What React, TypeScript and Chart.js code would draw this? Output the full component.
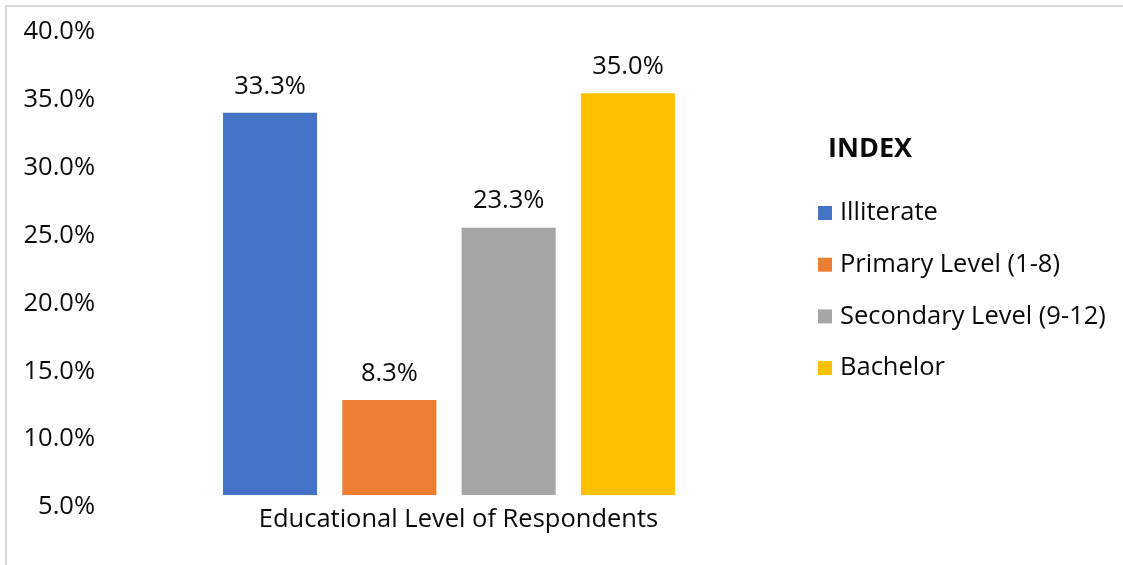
import React, { useEffect, useRef } from 'react';
import { Chart, registerables } from 'chart.js';

Chart.register(...registerables);

const categories = ['Educational Level of Respondents'];
const seriesNames = ['Illiterate', 'Primary Level (1-8)', 'Secondary Level (9-12)', 'Bachelor'];
const seriesValues = [33.3, 8.3, 23.3, 35.0];
const seriesColors = ['#4472C4', '#ED7D31', '#A5A5A5', '#FFC000'];
const yTickValues = [5, 10, 15, 20, 25, 30, 35, 40];
const yTickLabels = ['5.0%', '10.0%', '15.0%', '20.0%', '25.0%', '30.0%', '35.0%', '40.0%'];
const legendTitle = 'INDEX';

const FONT = '"Open Sans", Lato, sans-serif';
const FS = 25.5;
const TEXT = '#0a0a0a';
const W = 1123;
const H = 565;

const dataLabelPlugin = {
  id: 'dataLabels',
  afterDatasetsDraw(chart: any) {
    const ctx = chart.ctx;
    ctx.save();
    ctx.font = `${FS}px ${FONT}`;
    ctx.fillStyle = TEXT;
    ctx.textAlign = 'center';
    ctx.textBaseline = 'middle';
    chart.data.datasets.forEach((ds: any, i: number) => {
      const meta = chart.getDatasetMeta(i);
      meta.data.forEach((el: any, j: number) => {
        const v = ds.data[j];
        ctx.fillText(`${Number(v).toFixed(1)}%`, el.x, el.y - 26.5);
      });
    });
    ctx.restore();
  },
};

const sideLegendPlugin = {
  id: 'sideLegend',
  afterDraw(chart: any) {
    const ctx = chart.ctx;
    const a = chart.chartArea;
    ctx.save();
    ctx.textAlign = 'left';
    ctx.textBaseline = 'middle';
    ctx.fillStyle = TEXT;
    ctx.font = `bold 27px ${FONT}`;
    ctx.fillText(legendTitle, a.right + 30, 149);
    ctx.font = `${FS}px ${FONT}`;
    chart.data.datasets.forEach((ds: any, i: number) => {
      const y = 213 + i * 51.7;
      ctx.fillStyle = ds.backgroundColor;
      ctx.fillRect(a.right + 20, y - 7, 14, 14);
      ctx.fillStyle = TEXT;
      ctx.fillText(ds.label, a.right + 42, y);
    });
    ctx.restore();
  },
};

export default function App() {
  const ref = useRef<HTMLCanvasElement | null>(null);

  useEffect(() => {
    if (!ref.current) return;
    const datasets = seriesNames.map((name, i) => ({
      label: name,
      data: [seriesValues[i]],
      backgroundColor: seriesColors[i],
      borderWidth: 0,
      yAxisID: 'y',
      categoryPercentage: 0.6837,
      barPercentage: 0.788,
    }));

    const chart = new Chart(ref.current, {
      type: 'bar',
      data: { labels: categories, datasets },
      options: {
        responsive: false,
        animation: false,
        events: [],
        layout: {
          autoPadding: false,
          padding: { left: 0, right: 325, top: 35.8, bottom: 29.7 },
        },
        plugins: {
          legend: { display: false },
          tooltip: { enabled: false },
          title: { display: false },
        },
        scales: {
          x: {
            type: 'category',
            position: 'bottom',
            grid: { display: false, drawTicks: false },
            border: { display: false },
            ticks: {
              font: { family: FONT, size: FS },
              color: TEXT,
              padding: 9,
              labelOffset: 9.5,
              maxRotation: 0,
              autoSkip: false,
            },
            afterFit: (s: any) => {
              s.height = 40;
            },
          },
          y: {
            type: 'linear',
            display: false,
            min: 0,
            max: 40,
          },
          yl: {
            type: 'linear',
            position: 'left',
            min: 5.862,
            max: 39.73,
            grid: { display: false, drawTicks: false },
            border: { display: false },
            ticks: {
              font: { family: FONT, size: FS },
              color: TEXT,
              padding: 5,
              autoSkip: false,
              callback: (_v: any, idx: number) => yTickLabels[idx],
            },
            afterBuildTicks: (s: any) => {
              s.ticks = yTickValues.map((v) => ({ value: v }));
            },
            afterFit: (s: any) => {
              s.width = 100;
            },
          },
        },
      } as any,
      plugins: [dataLabelPlugin, sideLegendPlugin],
    });
    return () => chart.destroy();
  }, []);

  return (
    <div style={{ position: 'fixed', left: 0, top: 0, width: W, height: H, overflow: 'hidden', background: '#fff' }}>
      <div
        style={{
          position: 'absolute',
          left: 5,
          top: 5,
          width: W + 50,
          height: H + 50,
          borderLeft: '2px solid #d9d9d9',
          borderTop: '2px solid #d9d9d9',
        }}
      />
      <canvas ref={ref} width={W} height={H} style={{ position: 'absolute', left: 0, top: 0 }} />
    </div>
  );
}
